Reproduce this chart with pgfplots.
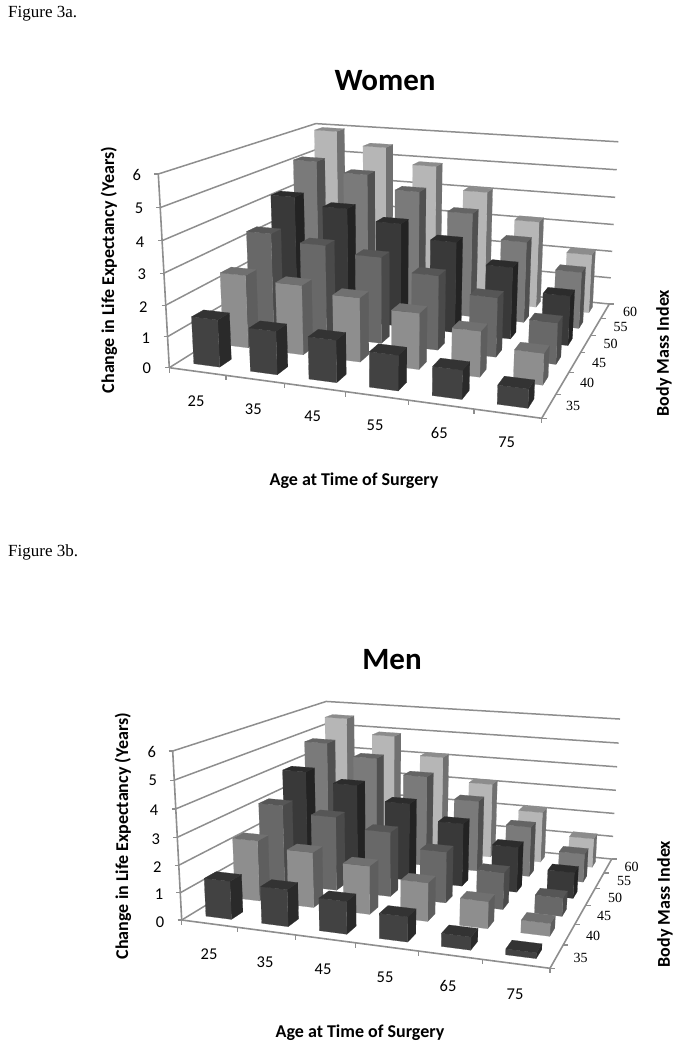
\documentclass[border=0pt]{standalone}
\usepackage{fontspec}
\setmainfont{Carlito}
\newfontfamily\timesf{Liberation Serif}
\usepackage{pgfplots}
\usepackage{pgfplotstable}
\pgfplotsset{compat=1.18}

% change in life expectancy (years), rows BMI 35..60, columns age 25..75
\pgfplotstableread{
bmi a25  a35  a45  a55  a65  a75
35  1.52 1.38 1.33 1.10 0.89 0.58
40  2.42 2.29 2.09 1.81 1.46 1.00
45  3.35 3.13 2.91 2.49 1.97 1.36
50  4.22 3.96 3.60 3.14 2.46 1.69
55  5.14 4.80 4.33 3.71 2.87 1.99
60  5.96 5.48 4.91 4.10 3.17 2.14
}\womentab
\pgfplotstableread{
bmi a25  a35  a45  a55  a65  a75
35  1.40 1.34 1.17 0.89 0.46 0.20
40  2.30 2.08 1.80 1.42 0.99 0.46
45  3.14 2.88 2.50 1.96 1.40 0.69
50  4.03 3.66 3.10 2.50 1.78 1.01
55  4.82 4.34 3.74 2.91 2.04 1.15
60  5.54 4.91 4.15 3.16 2.14 1.22
}\mentab

% bar colours per BMI row: F front, S right side, T top
\definecolor{barF0}{HTML}{424242}\definecolor{barS0}{HTML}{2A2A2A}\definecolor{barT0}{HTML}{333333}
\definecolor{barF1}{HTML}{8E8E8E}\definecolor{barS1}{HTML}{5E5E5E}\definecolor{barT1}{HTML}{707070}
\definecolor{barF2}{HTML}{686868}\definecolor{barS2}{HTML}{4A4A4A}\definecolor{barT2}{HTML}{565656}
\definecolor{barF3}{HTML}{393939}\definecolor{barS3}{HTML}{232323}\definecolor{barT3}{HTML}{2C2C2C}
\definecolor{barF4}{HTML}{7A7A7A}\definecolor{barS4}{HTML}{505050}\definecolor{barT4}{HTML}{646464}
\definecolor{barF5}{HTML}{B6B6B6}\definecolor{barS5}{HTML}{707070}\definecolor{barT5}{HTML}{8C8C8C}
\definecolor{gridc}{HTML}{8E8E8E}

% perspective map from (age, bmi, height), all 0..1, to picture pixels
\newcommand\setcam[9]{\def\ca{#1}\def\cb{#2}\def\cc{#3}\def\cd{#4}\def\cg{#5}\def\ch{#6}\def\ci{#7}\def\cea{#8}\def\ceb{#9}\setcamb}
\newcommand\setcamb[2]{\def\cec{#1}\def\ced{#2}}
\newcommand\campt[3]{%
  \pgfmathsetmacro\camw{1+\cg*#1+\ch*#2+\ci*#3}%
  \pgfmathsetmacro\px{(\ca*#1+\cb*#2+\cc*#3+\cd)/\camw}%
  \pgfmathsetmacro\py{(\cea*#1+\ceb*#2+\cec*#3+\ced)/\camw}}
\gdef\ptlist{}
\newcommand\addpt[3]{\campt{#1}{#2}{#3}\xdef\ptlist{\ptlist (\px,\py)}}
\newcommand\flushpts[1]{\edef\tmp{\noexpand\addplot[#1] coordinates {\ptlist};}\tmp\gdef\ptlist{}}

\newcommand\drawframe{%
  \foreach \n in {0,...,6}{%
    \pgfmathsetmacro\gz{\n/6}%
    \addpt{0}{0}{\gz}\addpt{0}{1}{\gz}\addpt{1}{1}{\gz}%
    \flushpts{gridc,line width=1.5bp}%
    \campt{0}{0}{\gz}%
    \pgfmathsetmacro\qx{\px-4}%
    \edef\tmp{\noexpand\addplot[gridc,line width=1.2bp] coordinates {(\qx,\py) (\px,\py)};}\tmp
  }%
  \addpt{0}{0}{0}\addpt{0}{0}{1}\flushpts{gridc,line width=1.6bp}%
  \addpt{0}{0}{0}\addpt{1}{0}{0}\addpt{1}{1}{0}\flushpts{gridc,line width=1.6bp}%
  \foreach \n in {0,...,6}{%
    \pgfmathsetmacro\gu{\n/6}%
    \campt{\gu}{0}{0}%
    \pgfmathsetmacro\qy{\py+5}%
    \edef\tmp{\noexpand\addplot[gridc,line width=1.2bp] coordinates {(\px,\py) (\px,\qy)};}\tmp
    \campt{1}{\gu}{0}%
    \pgfmathsetmacro\qx{\px+5}%
    \edef\tmp{\noexpand\addplot[gridc,line width=1.2bp] coordinates {(\px,\py) (\qx,\py)};}\tmp
  }}

\newcommand\drawbars[1]{%
  \foreach \k in {5,4,3,2,1,0}{%
    \foreach \j in {0,...,5}{%
      \pgfmathtruncatemacro\colidx{\j+1}%
      \pgfplotstablegetelem{\k}{[index]\colidx}\of{#1}%
      \pgfmathsetmacro\hh{\pgfplotsretval/6}%
      \pgfmathsetmacro\ua{0.045+\j/6}\pgfmathsetmacro\ub{\ua+0.077}%
      \pgfmathsetmacro\va{0.05+\k/6}\pgfmathsetmacro\vb{\va+0.066}%
      \addpt{\ub}{\va}{0}\addpt{\ub}{\vb}{0}\addpt{\ub}{\vb}{\hh}\addpt{\ub}{\va}{\hh}\addpt{\ub}{\va}{0}%
      \flushpts{fill=barS\k,draw=barS\k,line width=.2bp}%
      \addpt{\ua}{\va}{0}\addpt{\ub}{\va}{0}\addpt{\ub}{\va}{\hh}\addpt{\ua}{\va}{\hh}\addpt{\ua}{\va}{0}%
      \flushpts{fill=barF\k,draw=barF\k,line width=.2bp}%
      \addpt{\ua}{\va}{\hh}\addpt{\ub}{\va}{\hh}\addpt{\ub}{\vb}{\hh}\addpt{\ua}{\vb}{\hh}\addpt{\ua}{\va}{\hh}%
      \flushpts{fill=barT\k,draw=barT\k,line width=.2bp}%
    }%
  }}

\pgfplotsset{pix/.style={width=681bp,height=525bp,scale only axis,axis lines=none,
    xmin=0,xmax=681,y dir=reverse,clip=false}}
\tikzset{
  tk/.style={font=\fontsize{16.5bp}{18bp}\selectfont,inner sep=0pt},
  bm/.style={font=\timesf\fontsize{14bp}{16bp}\selectfont,inner sep=0pt},
  lb/.style={font=\bfseries\fontsize{18bp}{20bp}\selectfont,inner sep=0pt},
  ttl/.style={font=\bfseries\fontsize{31bp}{34bp}\selectfont,inner sep=0pt},
  fig/.style={font=\timesf\fontsize{17bp}{19bp}\selectfont,inner sep=0pt,anchor=west}}

\begin{document}
\begin{tikzpicture}
\useasboundingbox (0,-525bp) rectangle (681bp,525bp);
\setcam{317.99}{246.01}{-18.5}{169.3}{-0.10045}{0.30396}{-0.0474}{8.58}{-10.41}{-201.95}{367.7}
\begin{axis}[pix,ymin=0,ymax=525,at={(0,0)}]
\drawframe
\drawbars{\womentab}
\node[fig] at (axis cs:8,14) {Figure 3a.};
\node[ttl] at (axis cs:385,81) {Women};
\node[lb] at (axis cs:354,481) {Age at Time of Surgery};
\node[lb,rotate=90] at (axis cs:109,270) {Change in Life Expectancy (Years)};
\node[lb,rotate=90] at (axis cs:664,353) {Body Mass Index};
\node[tk] at (axis cs:136.7,175) {6}; \node[tk] at (axis cs:139,208) {5};
\node[tk] at (axis cs:140,242) {4}; \node[tk] at (axis cs:141.7,274) {3};
\node[tk] at (axis cs:143.3,307) {2}; \node[tk] at (axis cs:145.7,338) {1};
\node[tk] at (axis cs:146.7,368) {0};
\node[tk] at (axis cs:196,401) {25}; \node[tk] at (axis cs:253.3,409) {35};
\node[tk] at (axis cs:312.7,416.7) {45}; \node[tk] at (axis cs:375,425) {55};
\node[tk] at (axis cs:439.3,433.3) {65}; \node[tk] at (axis cs:506.7,442.3) {75};
\node[bm] at (axis cs:573,406) {35}; \node[bm] at (axis cs:587,383) {40};
\node[bm] at (axis cs:599,362.7) {45}; \node[bm] at (axis cs:610.7,344) {50};
\node[bm] at (axis cs:620.7,327) {55}; \node[bm] at (axis cs:630,311.7) {60};
\end{axis}
\setcam{311.34}{251.5}{-16.37}{181.7}{-0.10357}{0.32073}{-0.0427}{-51.99}{177.53}{-201.07}{920}
\begin{axis}[pix,ymin=525,ymax=1050,at={(0,-525bp)}]
\drawframe
\drawbars{\mentab}
\node[fig] at (axis cs:8,552) {Figure 3b.};
\node[ttl] at (axis cs:392,660) {Men};
\node[lb] at (axis cs:360,1033) {Age at Time of Surgery};
\node[lb,rotate=90] at (axis cs:123,836) {Change in Life Expectancy (Years)};
\node[lb,rotate=90] at (axis cs:665,904) {Body Mass Index};
\node[tk] at (axis cs:151.7,752) {6}; \node[tk] at (axis cs:152.7,780.7) {5};
\node[tk] at (axis cs:154,810) {4}; \node[tk] at (axis cs:155.7,839) {3};
\node[tk] at (axis cs:157.3,866.7) {2}; \node[tk] at (axis cs:159,894.3) {1};
\node[tk] at (axis cs:160,921.7) {0};
\node[tk] at (axis cs:209,954) {25}; \node[tk] at (axis cs:265,961.7) {35};
\node[tk] at (axis cs:323,969.3) {45}; \node[tk] at (axis cs:385,977) {55};
\node[tk] at (axis cs:448,985.7) {65}; \node[tk] at (axis cs:515,994) {75};
\node[bm] at (axis cs:580.7,957.7) {35}; \node[bm] at (axis cs:593,935.7) {40};
\node[bm] at (axis cs:604,915.7) {45}; \node[bm] at (axis cs:615,897.7) {50};
\node[bm] at (axis cs:624,881) {55}; \node[bm] at (axis cs:631.7,866.7) {60};
\end{axis}
\end{tikzpicture}
\end{document}
